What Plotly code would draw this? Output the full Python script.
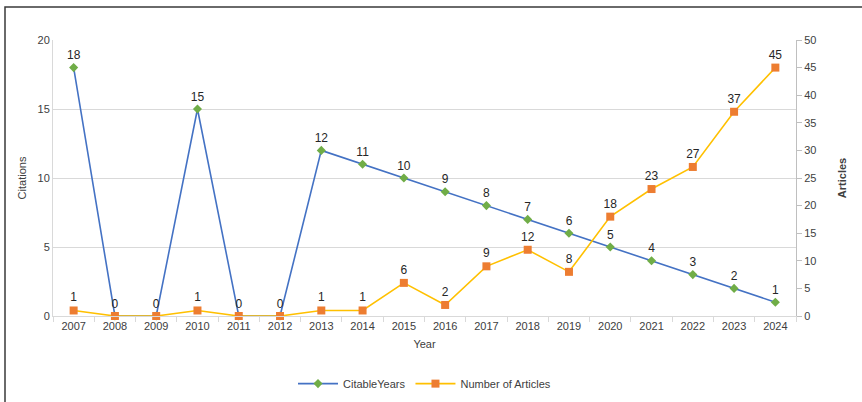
import plotly.graph_objects as go

years = [str(y) for y in range(2007, 2025)]
citable_years = [18, 0, 0, 15, 0, 0, 12, 11, 10, 9, 8, 7, 6, 5, 4, 3, 2, 1]
articles = [1, 0, 0, 1, 0, 0, 1, 1, 6, 2, 9, 12, 8, 18, 23, 27, 37, 45]

FONT = "Liberation Sans, Arial, sans-serif"

# labels: where both series show "0" at the same spot, one label is drawn
article_labels = [str(v) if not (v == 0 and c == 0) else "" for v, c in zip(articles, citable_years)]

fig = go.Figure()
fig.add_trace(go.Scatter(
    x=years, y=citable_years, name="CitableYears", mode="lines+markers+text",
    line=dict(color="#4472C4", width=1.6),
    marker=dict(symbol="diamond", color="#70AD47", size=7),
    text=[str(v) for v in citable_years], textposition="top center",
    textfont=dict(family=FONT, size=12, color="#262626"),
    cliponaxis=False,
))
fig.add_trace(go.Scatter(
    x=years, y=articles, name="Number of Articles", mode="lines+markers+text",
    line=dict(color="#FFC000", width=1.6),
    marker=dict(symbol="square", color="#ED7D31", size=8),
    text=article_labels, textposition="top center",
    textfont=dict(family=FONT, size=12, color="#262626"),
    yaxis="y2", cliponaxis=False,
))

fig.update_layout(
    width=862, height=402,
    margin=dict(l=53, r=66, t=40, b=86, autoexpand=False),
    paper_bgcolor="white", plot_bgcolor="white",
    font=dict(family=FONT, size=11, color="#404040"),
    showlegend=True,
    legend=dict(orientation="h", x=0.5, xanchor="center", y=-0.245, yanchor="middle",
                font=dict(family=FONT, size=11, color="#404040"), itemwidth=40),
    xaxis=dict(
        type="category", range=[-0.5, len(years) - 0.5], autorange=False,
        showgrid=False, showline=True, linecolor="#d9d9d9", linewidth=1,
        ticks="outside", tickson="boundaries", ticklen=5, tickcolor="#d9d9d9",
        tickfont=dict(family=FONT, size=11, color="#404040"),
        title=dict(text="Year", font=dict(family=FONT, size=11, color="#404040"), standoff=9),
        zeroline=False, fixedrange=True, automargin=False,
    ),
    yaxis=dict(
        range=[0, 20], dtick=5, showgrid=True, gridcolor="#d9d9d9", gridwidth=1,
        showline=True, linecolor="#d9d9d9", zeroline=False, ticks="", automargin=False,
        tickfont=dict(family=FONT, size=11, color="#404040"),
        title=dict(text="Citations", font=dict(family=FONT, size=11, color="#404040"), standoff=8),
    ),
    yaxis2=dict(
        range=[0, 50], dtick=5, overlaying="y", side="right", showgrid=False,
        showline=True, linecolor="#bfbfbf", zeroline=False, automargin=False,
        ticks="outside", ticklen=5, tickcolor="#bfbfbf",
        tickfont=dict(family=FONT, size=11, color="#404040"),
        title=dict(text="<b>Articles</b>", font=dict(family=FONT, size=11, color="#404040"), standoff=22),
    ),
    shapes=[dict(type="rect", xref="paper", yref="paper",
                 x0=-0.0646, x1=1.3, y0=-0.6, y1=1.1196,
                 line=dict(color="#3a3a3a", width=1.5), fillcolor="rgba(0,0,0,0)", layer="below")],
)

fig.write_html("out.html")
